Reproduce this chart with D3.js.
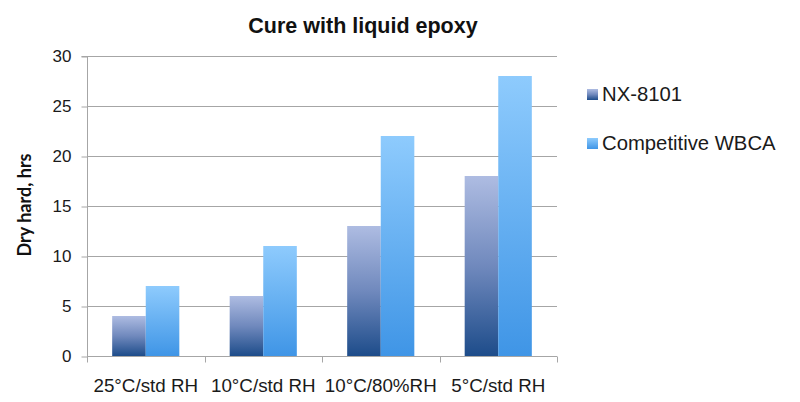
<!DOCTYPE html>
<html><head><meta charset="utf-8">
<script src="https://cdn.jsdelivr.net/npm/d3@7/dist/d3.min.js"></script>
<style>body{margin:0;background:#fff;} svg{display:block;}</style>
</head><body><svg id="c" width="800" height="402"></svg>
<script>
const categories = ["25°C/std RH", "10°C/std RH", "10°C/80%RH", "5°C/std RH"];
const seriesNames = ["NX-8101", "Competitive WBCA"];
const nx8101 = [4, 6, 13, 18];
const competitive = [7, 11, 22, 28];
const yTicks = [0, 5, 10, 15, 20, 25, 30];
const title = "Cure with liquid epoxy";
const yTitle = "Dry hard, hrs";

const svg = d3.select("#c");
const L = 87, R = 557, T = 56, B = 356;
const font = "'Liberation Sans', Arial, sans-serif";

const defs = svg.append("defs");
const g1 = defs.append("linearGradient").attr("id","gNX").attr("x1",0).attr("y1",0).attr("x2",0).attr("y2",1);
g1.append("stop").attr("offset","0%").attr("stop-color","#aebce2");
g1.append("stop").attr("offset","50%").attr("stop-color","#7089bd");
g1.append("stop").attr("offset","100%").attr("stop-color","#1d4c8a");
const g2 = defs.append("linearGradient").attr("id","gCW").attr("x1",0).attr("y1",0).attr("x2",0).attr("y2",1);
g2.append("stop").attr("offset","0%").attr("stop-color","#8ecbfd");
g2.append("stop").attr("offset","100%").attr("stop-color","#3f95e6");
const fills = ["url(#gNX)", "url(#gCW)"];
const legendFills = ["url(#gNX)", "url(#gCW)"];

const x = d3.scaleBand().domain(categories).range([L, R]).paddingInner(0).paddingOuter(0);
const y = d3.scaleLinear().domain([0, 30]).range([B, T]);
const bw = x.bandwidth() / 3.5;
const xs = d3.scaleBand().domain(seriesNames).range([0.75*bw, 0.75*bw + 2*bw]);

// gridlines
svg.append("g").selectAll("line").data(yTicks.filter(d=>d>0)).join("line")
  .attr("x1", L).attr("x2", R).attr("y1", d=>y(d)+0.5).attr("y2", d=>y(d)+0.5)
  .attr("stroke", "#a6a6a6").attr("stroke-width", 1);

// bars
const data = [nx8101, competitive];
seriesNames.forEach((s, si) => {
  svg.append("g").selectAll("rect").data(categories).join("rect")
    .attr("x", c => x(c) + xs(s))
    .attr("width", xs.bandwidth())
    .attr("y", (c, i) => y(data[si][i]))
    .attr("height", (c, i) => y(0) - y(data[si][i]))
    .attr("fill", fills[si]);
});

// y axis
const yAxis = d3.axisLeft(y).tickValues(yTicks).tickSize(6).tickPadding(10);
const ya = svg.append("g").attr("transform", `translate(${L+0.5},0.5)`).call(yAxis);
ya.select(".domain").attr("stroke", "#a6a6a6").attr("d", `M-6,${T}H0V${B}`);
ya.selectAll(".tick line").attr("stroke", "#a6a6a6");
ya.selectAll(".tick text").attr("font-family", font).attr("font-size", 17).attr("fill", "#1a1a1a");

// x axis
const xAxis = d3.axisBottom(x).tickSize(0).tickPadding(22);
const xa = svg.append("g").attr("transform", `translate(0,${B+0.5})`).call(xAxis);
xa.select(".domain").attr("stroke", "#a6a6a6").attr("d", `M${L},0H${R}`);
xa.selectAll(".tick text").attr("font-family", font).attr("font-size", 18.8).attr("fill", "#1a1a1a");
const bounds = categories.map(c => x(c)).concat([R]);
xa.append("g").selectAll("line").data(bounds).join("line")
  .attr("x1", d=>Math.round(d)+0.5).attr("x2", d=>Math.round(d)+0.5).attr("y1", 0).attr("y2", 6)
  .attr("stroke", "#a6a6a6");

// title
svg.append("text").attr("x", 363).attr("y", 33).attr("text-anchor", "middle")
  .attr("font-family", font).attr("font-weight", "bold").attr("font-size", 21.5).attr("fill", "#111")
  .text(title);

// y title
svg.append("text").attr("transform", "translate(31,205) rotate(-90)").attr("text-anchor", "middle")
  .attr("font-family", "Lato, 'Open Sans', sans-serif").attr("font-weight", "bold").attr("font-size", 18).attr("fill", "#111")
  .text(yTitle);

// legend
const lg = svg.append("g");
const ly = [94, 143];
seriesNames.forEach((s, i) => {
  lg.append("rect").attr("x", 587).attr("y", ly[i]-5).attr("width", 11).attr("height", 11).attr("fill", legendFills[i]);
  lg.append("text").attr("x", 602).attr("y", ly[i]+7).attr("font-family", font).attr("font-size", 20.3).attr("fill", "#1a1a1a").text(s);
});
</script></body></html>
